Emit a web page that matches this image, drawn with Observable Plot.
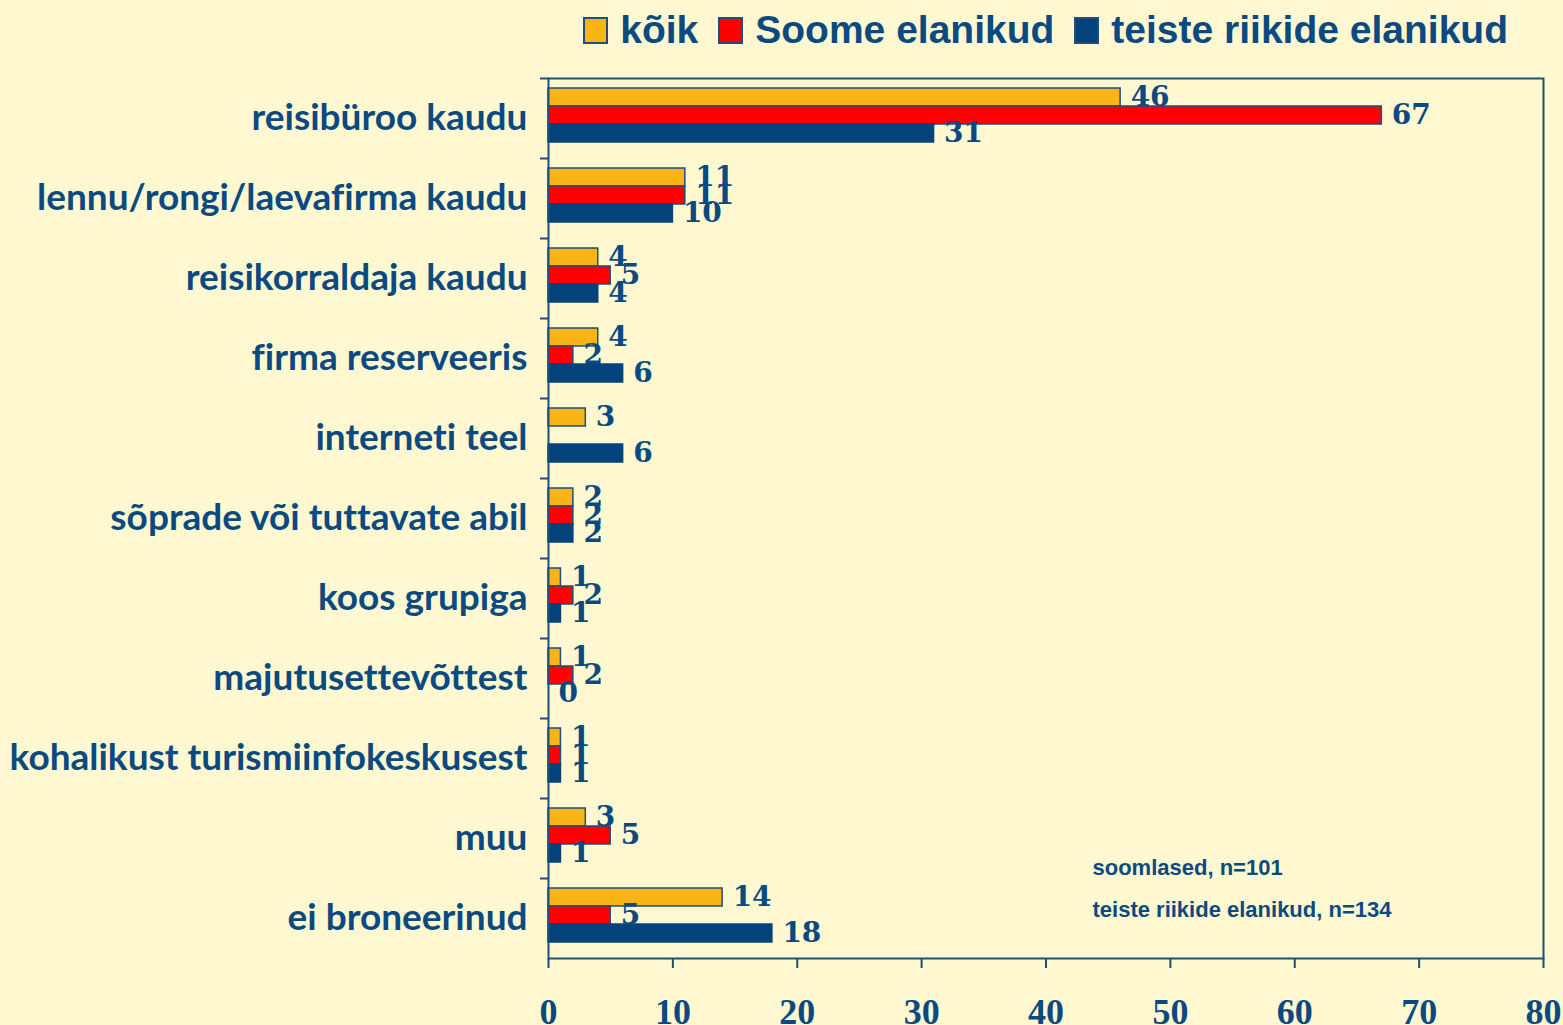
<!DOCTYPE html>
<html>
<head>
<meta charset="utf-8">
<script src="https://cdn.jsdelivr.net/npm/d3@7"></script>
<script src="https://cdn.jsdelivr.net/npm/@observablehq/plot@0.6"></script>
<style>
  html, body { margin: 0; padding: 0; background: #FFF8D0; }
  body { width: 1563px; height: 1025px; overflow: hidden; }
  #legend { height: 60px; display: flex; justify-content: flex-end; align-items: center; padding-right: 55px; box-sizing: border-box;
    font-family: "Liberation Sans Narrow", "Arial Narrow", sans-serif; font-weight: bold; font-size: 39px; color: #0A4A80; }
  #legend .item { display: flex; align-items: center; margin-left: 20px; }
  #legend .sw { width: 21px; height: 23px; border: 2px solid #1F4E79; margin-right: 12px; box-sizing: content-box; }
  #chart svg { display: block; font-variant-ligatures: none; }
</style>
</head>
<body>
<div id="legend"></div>
<div id="chart"></div>
<script>
const categories = [
  "reisibüroo kaudu",
  "lennu/rongi/laevafirma kaudu",
  "reisikorraldaja kaudu",
  "firma reserveeris",
  "interneti teel",
  "sõprade või tuttavate abil",
  "koos grupiga",
  "majutusettevõttest",
  "kohalikust turismiinfokeskusest",
  "muu",
  "ei broneerinud"
];
const seriesNames = ["kõik", "Soome elanikud", "teiste riikide elanikud"];
const koik   = [46, 11, 4, 4, 3, 2, 1, 1, 1, 3, 14];
const soome  = [67, 11, 5, 2, null, 2, 2, 2, 1, 5, 5];
const teiste = [31, 10, 4, 6, 6, 2, 1, 0, 1, 1, 18];
const xTicks = [0, 10, 20, 30, 40, 50, 60, 70, 80];
const notes = ["soomlased, n=101", "teiste riikide elanikud, n=134"];

const colors = ["#F8B514", "#FF0000", "#03437B"];
const textColor = "#0A4A80";
const edge = "#1F4E79";

const seriesValues = [koik, soome, teiste];
const rows = [];
categories.forEach((c, i) => {
  seriesNames.forEach((s, k) => {
    const v = seriesValues[k][i];
    if (v !== null && v !== undefined) rows.push({cat: c, series: s, value: v});
  });
});

// legend
const legend = document.getElementById("legend");
seriesNames.forEach((s, k) => {
  const it = document.createElement("div");
  it.className = "item";
  const sw = document.createElement("span");
  sw.className = "sw";
  sw.style.background = colors[k];
  const t = document.createElement("span");
  t.textContent = s;
  it.appendChild(sw); it.appendChild(t);
  legend.appendChild(it);
});

const chart = Plot.plot({
  width: 1563,
  height: 965,
  marginLeft: 548,
  marginRight: 20,
  marginTop: 17,
  marginBottom: 67,
  style: {background: "transparent", color: textColor},
  x: {domain: [0, 80], axis: null, label: null},
  y: {domain: seriesNames, paddingInner: 0, paddingOuter: 0.65, align: 0.4, axis: null, label: null},
  fy: {domain: categories, padding: 0, axis: null, label: null},
  color: {domain: seriesNames, range: colors},
  marks: [
    Plot.barX(rows, {
      x: "value", y: "series", fy: "cat", fill: "series",
      stroke: d => d.series === seriesNames[2] ? colors[2] : edge,
      strokeWidth: 1.5
    }),
    Plot.text(rows, {
      x: "value", y: "series", fy: "cat", text: d => String(d.value),
      dx: 10, textAnchor: "start", fontSize: 28, fontWeight: "bold",
      fontFamily: "DejaVu Serif", fill: textColor
    }),
    Plot.axisFy({
      anchor: "left", tickSize: 0, tickPadding: 21, fontSize: 37, label: null,
      fontWeight: "bold", fontFamily: "Lato", fill: textColor
    }),
    Plot.axisFy({
      anchor: "left", tickSize: 8, tickFormat: () => "", label: null, dy: -40, stroke: edge, strokeWidth: 2
    }),
    Plot.axisX(xTicks, {
      anchor: "bottom", facetAnchor: "bottom", tickSize: 10, tickPadding: 30, fontSize: 36, fontWeight: "bold",
      label: null, fontFamily: "Liberation Serif", fill: textColor, stroke: edge, strokeWidth: 2
    }),
    Plot.frame({facet: "super", stroke: edge, strokeWidth: 2}),
    Plot.text([notes[0]], {
      facet: "super", frameAnchor: "bottom-right", text: d => d, textAnchor: "start",
      dx: -451, dy: -91, lineAnchor: "middle",
      fontSize: 22, fontWeight: "bold", fontFamily: "Liberation Sans, Arial", fill: textColor
    }),
    Plot.text([notes[1]], {
      facet: "super", frameAnchor: "bottom-right", text: d => d, textAnchor: "start",
      dx: -451, dy: -49, lineAnchor: "middle",
      fontSize: 22, fontWeight: "bold", fontFamily: "Liberation Sans, Arial", fill: textColor
    })
  ]
});
document.getElementById("chart").appendChild(chart);
</script>
</body>
</html>
